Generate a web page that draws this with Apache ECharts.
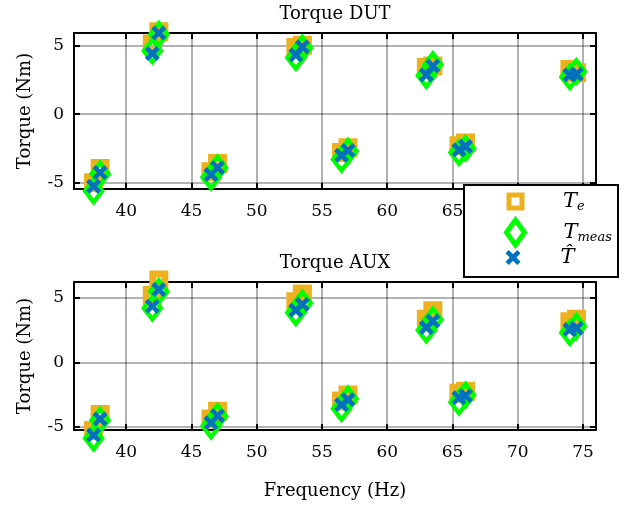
<!DOCTYPE html>
<html>
<head>
<meta charset="utf-8">
<script src="https://cdn.jsdelivr.net/npm/echarts@6/dist/echarts.min.js"></script>
<style>html,body{margin:0;padding:0;background:#fff;}#c{width:627px;height:506px;}</style>
</head>
<body>
<div id="c"></div>
<script>
// Frequencies (Hz), shared by all series
const freq = [37.5, 38, 42, 42.5, 46.5, 47, 53, 53.5, 56.5, 57, 63, 63.5, 65.5, 66, 74, 74.5];
// Torque DUT (Nm)
const dutTe    = [-5.0, -3.95, 5.1, 6.0, -4.2, -3.6, 4.85, 5.0, -2.8, -2.45, 3.4, 3.5, -2.3, -2.1, 3.25, 3.0];
const dutTmeas = [-5.6, -4.35, 4.6, 5.8, -4.6, -3.9, 4.1, 4.8, -3.3, -2.7, 2.8, 3.6, -2.8, -2.5, 2.7, 3.1];
const dutThat  = [-5.25, -4.25, 4.4, 5.9, -4.4, -3.9, 4.3, 4.9, -3.0, -2.65, 2.85, 3.5, -2.6, -2.35, 2.85, 2.9];
// Torque AUX (Nm)
const auxTe    = [-5.3, -4.05, 5.2, 6.4, -4.4, -3.8, 4.7, 5.3, -3.0, -2.55, 3.35, 4.0, -2.4, -2.25, 3.15, 3.35];
const auxTmeas = [-5.9, -4.5, 4.2, 5.5, -4.95, -4.2, 3.85, 4.6, -3.6, -2.85, 2.5, 3.3, -3.1, -2.55, 2.3, 2.8];
const auxThat  = [-5.65, -4.4, 4.35, 5.65, -4.7, -4.15, 4.05, 4.5, -3.3, -2.9, 2.7, 3.2, -2.75, -2.6, 2.55, 2.65];
// Axis ranges
const xRange = [36, 76];
const dutRange = [-5.45, 5.9];
const auxRange = [-5.26, 6.24];

const FONT = 'DejaVu Serif';
const ORANGE = '#EDB120', GREEN = '#00FF00', BLUE = '#0072BD';
const CROSS = 'path://M0,2.2 L2.2,0 L5,2.8 L7.8,0 L10,2.2 L7.2,5 L10,7.8 L7.8,10 L5,7.2 L2.2,10 L0,7.8 L2.8,5 Z';

const pairs = (ys) => freq.map((f, i) => [f, ys[i]]);

const tick = {show: true, inside: true, length: 6, lineStyle: {color: '#000', width: 2}};
const line = {show: true, onZero: false, lineStyle: {color: '#000', width: 2}};
const split = {show: true, showMinLine: false, showMaxLine: false, lineStyle: {color: 'rgba(0,0,0,0.3)', width: 2}};

function mainX(grid, name) {
  return {type: 'value', gridIndex: grid, position: 'bottom', min: xRange[0], max: xRange[1], splitNumber: 8,
    axisLine: line, axisTick: tick, splitLine: split,
    axisLabel: {show: true, showMinLabel: false, showMaxLabel: false, margin: 14, color: '#000', fontFamily: FONT, fontSize: 17},
    name: name || '', nameLocation: 'middle', nameGap: 52,
    nameTextStyle: {color: '#000', fontFamily: FONT, fontSize: 18}};
}
function topX(grid, title) {
  return {type: 'value', gridIndex: grid, position: 'top', min: xRange[0], max: xRange[1], splitNumber: 8,
    axisLine: line, axisTick: tick, splitLine: {show: false}, axisLabel: {show: false},
    name: title, nameLocation: 'middle', nameGap: 10,
    nameTextStyle: {color: '#000', fontFamily: FONT, fontSize: 18}};
}
function mainY(grid, r) {
  return {type: 'value', gridIndex: grid, position: 'left', min: r[0], max: r[1], splitNumber: 2,
    axisLine: line, axisTick: tick, splitLine: split,
    axisLabel: {show: true, showMinLabel: false, showMaxLabel: false, margin: 10, color: '#000', fontFamily: FONT, fontSize: 17},
    name: 'Torque (Nm)', nameLocation: 'middle', nameGap: 40,
    nameTextStyle: {color: '#000', fontFamily: FONT, fontSize: 18}};
}
function rightY(grid, r) {
  return {type: 'value', gridIndex: grid, position: 'right', min: r[0], max: r[1], splitNumber: 2,
    axisLine: line, axisTick: tick, splitLine: {show: false}, axisLabel: {show: false}};
}

function seriesFor(grid, te, tm, th) {
  const common = {type: 'scatter', xAxisIndex: grid * 2, yAxisIndex: grid * 2, clip: false, emphasis: {disabled: true}};
  return [
    Object.assign({}, common, {name: 'Te', data: pairs(te), symbol: 'rect', symbolSize: 12,
      itemStyle: {color: 'rgba(0,0,0,0)', borderColor: ORANGE, borderWidth: 7, opacity: 1}}),
    Object.assign({}, common, {name: 'Tmeas', data: pairs(tm), symbol: 'diamond', symbolSize: [17, 22],
      itemStyle: {color: 'rgba(0,0,0,0)', borderColor: GREEN, borderWidth: 4.5, opacity: 1}}),
    Object.assign({}, common, {name: 'That', data: pairs(th), symbol: CROSS, symbolSize: 15,
      itemStyle: {color: BLUE, borderWidth: 0, opacity: 1}})
  ];
}

const legendLabels = {Te: '{t|T}{s|e}', Tmeas: '{t|T}{s|meas}', That: '{t|T\u0302}'};
const rich = {
  t: {fontFamily: FONT, fontStyle: 'italic', fontSize: 21, lineHeight: 24, color: '#000'},
  s: {fontFamily: FONT, fontStyle: 'italic', fontSize: 13, lineHeight: 8, verticalAlign: 'bottom', color: '#000'}
};
function legendFor(name, icon, w, h, cy, style, pad) {
  return {show: true, selectedMode: false, z: 20, orient: 'vertical', padding: 0,
    left: 513 - w / 2, top: cy - Math.max(h, 24) / 2, itemWidth: w, itemHeight: h,
    data: [{name: name, icon: icon, itemStyle: style}],
    formatter: (n) => legendLabels[n],
    textStyle: {rich: rich, padding: [0, 0, 0, pad]}};
}

const chart = echarts.init(document.getElementById('c'), null, {renderer: 'canvas'});
chart.setOption({
  animation: false,
  backgroundColor: '#fff',
  grid: [
    {left: 74, top: 33, width: 522, height: 156, show: false},
    {left: 74, top: 282, width: 522, height: 148, show: false}
  ],
  xAxis: [mainX(0), topX(0, 'Torque DUT'), mainX(1, 'Frequency (Hz)'), topX(1, 'Torque AUX')],
  yAxis: [mainY(0, dutRange), rightY(0, dutRange), mainY(1, auxRange), rightY(1, auxRange)],
  series: [].concat(seriesFor(0, dutTe, dutTmeas, dutThat), seriesFor(1, auxTe, auxTmeas, auxThat)),
  legend: [
    legendFor('Te', 'rect', 13, 13, 203, {color: '#fff', borderColor: ORANGE, borderWidth: 5, opacity: 1}, 36),
    legendFor('Tmeas', 'diamond', 18, 25, 230, {color: '#fff', borderColor: GREEN, borderWidth: 5, opacity: 1}, 34),
    legendFor('That', CROSS, 15, 15, 259, {color: BLUE, borderWidth: 0, opacity: 1}, 35)
  ],
  graphic: [
    {type: 'rect', z: 10, shape: {x: 464, y: 185, width: 154, height: 92},
      style: {fill: '#fff', stroke: '#000', lineWidth: 2}}
  ]
});
</script>
</body>
</html>
